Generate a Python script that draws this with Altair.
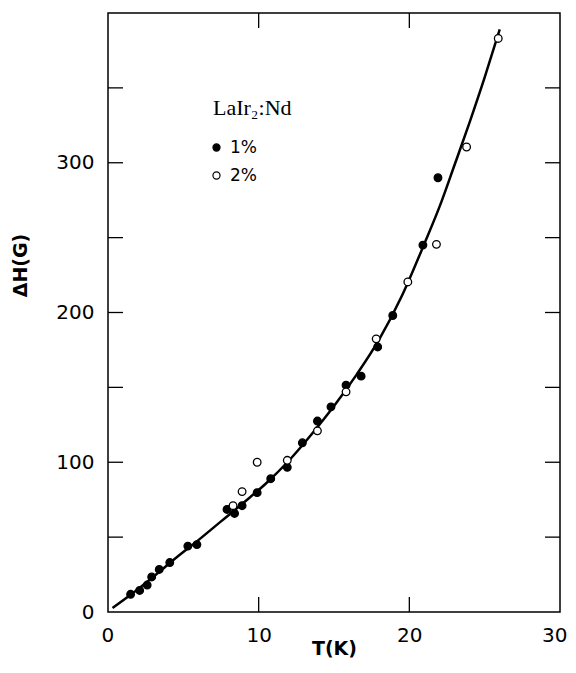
import altair as alt
import pandas as pd

# ---- data ----
curve_T = [0.3, 1.5, 3, 4.5, 6, 7.5, 9, 10.5, 12, 13.5, 15, 16.5, 18, 19.5, 21, 22, 23, 24, 25, 26]
curve_H = [2.7, 11.5, 23.5, 36, 48, 60.5, 73, 86, 101, 118.5, 137.5, 158.5, 182, 211, 246, 270.5, 298.5, 327, 357, 389]

filled_T = [1.5, 2.1, 2.6, 2.9, 3.4, 4.1, 5.3, 5.9, 7.9, 8.4, 8.9, 9.9, 10.8, 11.9,
            12.9, 13.9, 14.8, 15.8, 16.8, 17.9, 18.9, 20.9, 21.9]
filled_H = [11.8, 14.4, 18, 23.4, 28.4, 33, 44, 45, 68.5, 65.8, 71, 79.7, 89, 96.6,
            113, 127.5, 137, 151.5, 157.5, 177, 198, 245, 290]

open_T = [8.3, 8.9, 9.9, 11.9, 13.9, 15.8, 17.8, 19.9, 21.8, 23.8, 25.9]
open_H = [71, 80.4, 100, 101.3, 121, 147, 182.4, 220.4, 245.5, 310.5, 383]

series_names = ["1%", "2%"]
x_tick_labels = [0, 10, 20, 30]
y_tick_labels = [0, 100, 200, 300]
x_minor = [10, 20]
y_minor = [50, 100, 150, 200, 250, 300, 350]

W, H = 452, 599
TICK = 15

curve = pd.DataFrame({"T": curve_T, "H": curve_H})
pts = pd.DataFrame({
    "T": filled_T + open_T,
    "H": filled_H + open_H,
    "series": [series_names[0]] * len(filled_T) + [series_names[1]] * len(open_T),
})
xt = pd.DataFrame({"v": x_minor})
yt = pd.DataFrame({"v": y_minor})

xscale = alt.Scale(domain=[0, 30], nice=False, zero=False)
yscale = alt.Scale(domain=[0, 400], nice=False, zero=False)

x_axis = alt.Axis(values=x_tick_labels, title="T(K)", ticks=False, domain=False, grid=False,
                  labelFont="DejaVu Sans", labelFontSize=20, labelColor="black",
                  labelPadding=13, labelFlush=True, labelFlushOffset=7, labelOverlap=False,
                  titleFont="DejaVu Sans", titleFontSize=19, titleFontWeight="bold",
                  titleColor="black", titleY=36, titleBaseline="middle")
y_axis = alt.Axis(values=y_tick_labels, title="ΔH(G)", ticks=False, domain=False, grid=False,
                  labelFont="DejaVu Sans", labelFontSize=20, labelColor="black",
                  labelPadding=14, labelFlush=False, labelOverlap=False,
                  titleFont="DejaVu Sans", titleFontSize=19, titleFontWeight="bold",
                  titleColor="black", titleX=-88, titleY=252, titleAngle=270,
                  titleAlign="center", titleBaseline="middle")

line = alt.Chart(curve).mark_line(color="black", strokeWidth=2.5, interpolate="monotone").encode(
    x=alt.X("T:Q", scale=xscale, axis=x_axis),
    y=alt.Y("H:Q", scale=yscale, axis=y_axis),
)

points = alt.Chart(pts).mark_point(shape="circle", filled=True, stroke="black",
                                   strokeWidth=1.3, size=58, opacity=1).encode(
    x=alt.X("T:Q", scale=xscale, axis=x_axis),
    y=alt.Y("H:Q", scale=yscale, axis=y_axis),
    fill=alt.Fill("series:N", scale=alt.Scale(domain=series_names, range=["black", "white"]),
                  legend=alt.Legend(title="LaIr₂:Nd", orient="none", legendX=105, legendY=85,
                                    padding=0, titleFont="Liberation Serif", titleFontSize=22,
                                    titleFontWeight="normal", titleColor="black", titlePadding=19,
                                    labelFont="DejaVu Sans", labelFontSize=17, labelColor="black",
                                    labelOffset=5, symbolOffset=-5, rowPadding=10,
                                    symbolType="circle", symbolSize=50,
                                    symbolStrokeColor="black", symbolStrokeWidth=1.2)),
)

left_ticks = alt.Chart(yt).mark_rule(color="black", strokeWidth=1.3).encode(
    y=alt.Y("v:Q", scale=yscale, axis=y_axis), x=alt.value(0), x2=alt.value(TICK))
right_ticks = alt.Chart(yt).mark_rule(color="black", strokeWidth=1.3).encode(
    y=alt.Y("v:Q", scale=yscale, axis=y_axis), x=alt.value(W - TICK), x2=alt.value(W))
bottom_ticks = alt.Chart(xt).mark_rule(color="black", strokeWidth=1.3).encode(
    x=alt.X("v:Q", scale=xscale, axis=x_axis), y=alt.value(H - TICK), y2=alt.value(H))
top_ticks = alt.Chart(xt).mark_rule(color="black", strokeWidth=1.3).encode(
    x=alt.X("v:Q", scale=xscale, axis=x_axis), y=alt.value(0), y2=alt.value(TICK))

chart = alt.layer(line, points, left_ticks, right_ticks, bottom_ticks, top_ticks).properties(
    width=W, height=H,
    padding={"left": 100, "top": 5, "right": 8, "bottom": 48},
    autosize=alt.AutoSizeParams(type="none"),
    background="white",
).configure_view(stroke="black", strokeWidth=1.5)

chart.save("out.html", embed_options={"renderer": "svg", "actions": False})
